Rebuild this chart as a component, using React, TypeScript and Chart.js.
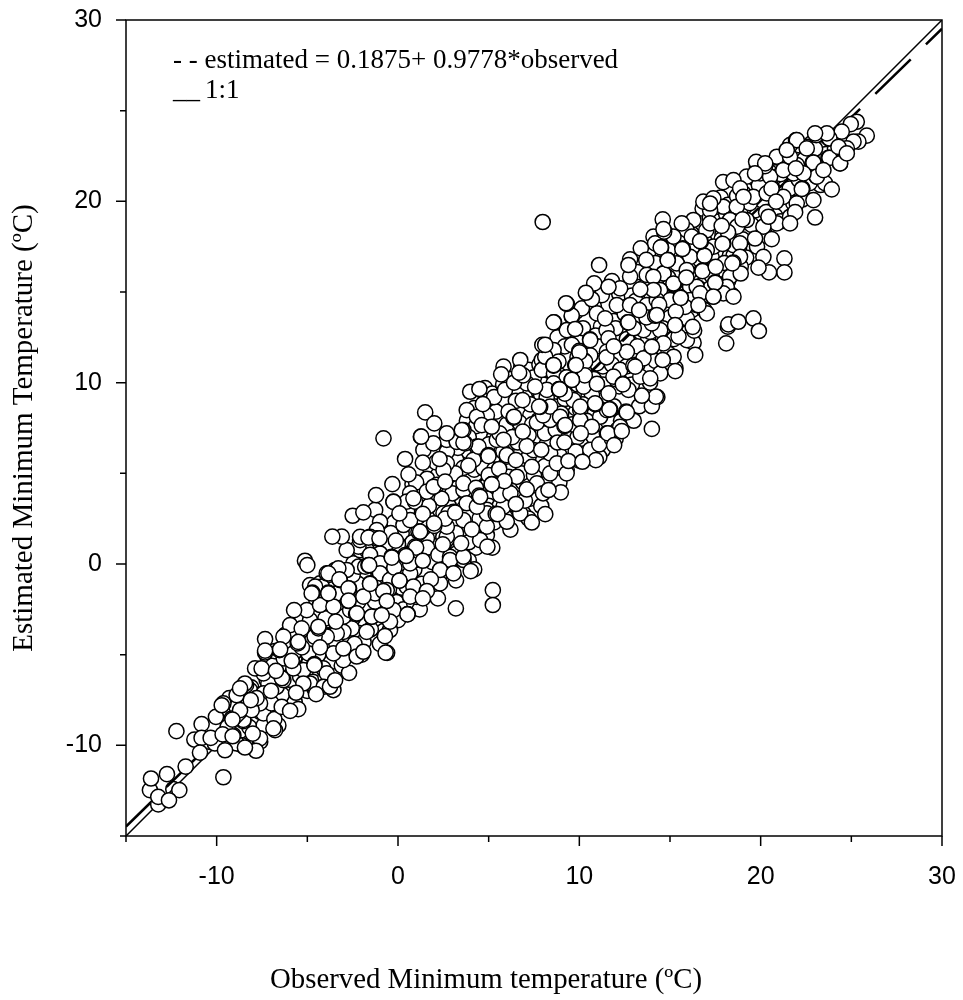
import React, { useEffect, useRef } from "react";
import { Chart, registerables } from "chart.js";

Chart.register(...registerables);

type Pair = [number, number];

const xTitle = "Observed Minimum temperature (ºC)";
const yTitle = "Estimated Minimum Temperature (ºC)";
const legendLines = ["- - estimated = 0.1875+ 0.9778*observed", "__", "1:1"];
const axisMin = -15;
const axisMax = 30;
const lineObserved = [-15, 30];
const oneToOne = [-15, 30];
const regression = [-14.48, 29.52];

// circles that sit beneath the two lines, so a diagonal shows through them
const underLines: Pair[] = [
  [-9.3,-7.4],[-8.9,-7.9],[-9.1,-8.9],[-8.7,-9.2],[-9.4,-9.7],[-8.6,-10.0],
  [-8.1,-6.8],[-7.9,-7.2],[-8.3,-8.3],[-7.8,-8.7],[-8.2,-9.0],[-7.6,-9.8],
  [-7.2,-5.1],[-6.9,-5.6],[-7.1,-6.2],[-6.8,-6.5],[-7.3,-7.3],[-6.9,-7.6],[-7.0,-8.3],[-6.6,-8.9],
  [-6.2,-3.9],[-5.9,-4.5],[-6.1,-5.1],[-5.8,-5.4],[-6.3,-6.0],[-5.9,-6.4],[-6.1,-7.2],[-5.7,-7.6],[-5.5,-8.0],
  [-5.2,-2.7],[-4.9,-3.1],[-5.1,-3.9],[-4.8,-4.3],[-5.2,-5.0],[-4.9,-5.3],[-5.1,-6.1],[-4.7,-6.5],[-5.0,-7.0],[-4.6,-6.9],
  [-4.2,-1.3],[-3.9,-1.9],[-4.1,-2.6],[-3.8,-3.4],[-4.2,-3.8],[-3.9,-4.4],[-4.1,-5.0],[-3.7,-5.4],[-4.0,-6.2],[-3.8,-6.6],
  [-3.2,-0.5],[-2.9,-1.0],[-3.1,-1.7],[-2.8,-2.3],[-3.2,-3.1],[-2.9,-3.5],[-3.1,-4.2],[-2.8,-4.8],[-3.1,-5.6],[-2.7,-6.0],
  [-2.3,0.2],[-1.9,-0.6],[-2.2,-1.1],[-1.9,-2.0],[-2.1,-2.6],[-1.8,-3.3],[-2.2,-3.8],[-1.9,-4.3],[-2.0,-5.0],
  [-1.2,1.0],[-0.8,0.7],[-1.1,-0.3],[-0.9,-1.1],[-1.2,-2.2],[-0.8,-2.4],[-1.1,-3.3],[-0.8,-3.7],[-1.0,-4.4],[-0.6,-4.9],
  [-0.2,2.3],[0.2,1.7],[-0.1,0.9],[0.3,0.3],[-0.2,-0.6],[0.2,-1.3],[-0.1,-2.1],[0.3,-2.5],[0,-3.1],
  [0.8,4.4],[1.2,3.5],[0.9,2.8],[1.3,2.2],[0.8,1.2],[1.2,0.7],[0.9,-0.3],[1.3,-1.1],[0.9,-2.2],[1.2,-2.5],
  [1.8,5.2],[2.2,4.9],[1.9,3.4],[2.3,3.0],[1.8,1.7],[2.2,1.0],[1.9,0.1],[2.3,-0.6],[1.9,-1.5],[2.2,-1.9],
  [2.8,6.1],[3.2,5.8],[2.9,4.8],[3.3,4.2],[2.8,3.2],[3.2,2.1],[2.9,1.3],[3.3,0.8],[2.9,-0.2],[3.2,-0.9],
  [3.8,7.9],[4.2,8.6],[3.9,6.2],[4.2,5.2],[3.8,3.9],[4.2,3.0],[3.9,1.8],[4.3,0.9],[3.9,0.2],[4.2,-0.3],
  [4.8,9.7],[5.2,9.4],[4.9,7.9],[5.3,7.0],[4.8,5.5],[5.2,5.0],[4.9,3.6],[5.3,2.3],[4.9,1.6],[5.2,0.9],
  [5.8,9.9],[6.2,10.2],[5.9,8.8],[6.3,7.8],[5.8,6.2],[6.2,5.3],[5.9,4.2],[6.3,3.3],[5.9,2.6],[6.2,1.9],
  [6.8,10.9],[7.2,10.7],[6.9,9.6],[7.3,8.2],[6.8,6.2],[7.2,5.9],[6.9,4.5],[7.3,3.6],[6.9,2.8],[7.2,2.5],
  [7.8,11.0],[8.2,10.6],[7.9,9.3],[8.3,8.0],[7.8,7.0],[8.2,6.6],[7.9,5.2],[8.3,4.5],[7.9,3.2],
  [8.8,12.5],[9.2,12.0],[8.9,10.4],[9.3,9.8],[8.8,8.4],[9.2,7.2],[8.9,6.0],[9.3,5.2],[8.9,4.5],
  [9.8,13.9],[10.2,13.0],[9.9,11.4],[10.3,10.6],[9.8,8.6],[10.2,8.0],[9.9,7.0],[10.3,6.1],[10.0,5.7],
  [10.8,14.2],[11.2,13.1],[10.9,12.6],[11.3,10.9],[10.8,10.2],[11.2,9.0],[10.9,7.4],[11.3,6.3],[11.1,5.9],
  [11.8,15.6],[12.2,14.9],[11.9,13.4],[12.3,12.6],[11.8,11.0],[12.2,9.8],[11.9,8.7],[12.3,7.9],[12.0,6.9],
  [12.8,16.8],[13.2,16.1],[12.9,14.8],[13.3,13.3],[12.8,12.2],[13.2,11.0],[12.9,9.9],[13.3,8.7],[13.0,7.9],
  [13.8,17.2],[14.2,16.6],[13.9,15.0],[14.3,13.1],[13.8,12.4],[14.2,11.2],[13.9,10.0],[14.3,9.2],[14.0,8.7],
  [14.8,18.2],[15.2,17.9],[14.9,15.8],[15.3,15.2],[14.8,13.4],[15.2,12.4],[14.9,11.6],[15.3,10.8],[15.0,11.1],
  [15.8,18.6],[16.2,18.2],[15.9,17.0],[16.3,15.8],[15.8,14.9],[16.2,14.0],[15.9,12.7],[16.3,12.2],
  [16.8,19.6],[17.2,19.1],[16.9,17.8],[17.3,16.9],[16.8,15.4],[17.2,14.8],[16.9,14.0],
  [17.8,20.2],[18.2,19.8],[17.9,18.2],[18.3,17.0],[17.8,16.0],[18.2,15.6],[17.9,15.0],
  [18.8,21.0],[19.2,20.6],[18.9,19.5],[19.3,18.3],[18.8,17.4],[19.2,16.9],[18.9,16.4],
  [19.8,21.9],[20.2,21.2],[19.9,19.2],[20.3,18.1],[19.8,17.5],
  [20.8,21.6],[21.2,22.5],[20.9,20.6],[21.3,19.6],[20.8,19.2],[21.1,18.9],
  [21.8,23.2],[22.2,22.6],[21.9,21.0],[22.3,20.1],[21.8,19.9],
  [22.8,23.2],[23.2,22.9],[22.9,21.7],[23.3,20.9],
  [-12.39,-12.42],[-8.53,-8.67],[-8.53,-8.6],[-5.68,-5.76],[-3.38,-3.18],[-1.91,-1.81],[-1.9,-1.9],[0.4,0.4],[1.59,1.41],[3.06,2.88],[3.7,3.95],
  [7.75,7.94],[10.97,11.06],[12.62,12.4],[15.2,15.4],[16.45,16.3],[17.85,17.9],[19.69,19.5],[20.06,20.07],[21.31,21.2],
];

const extraBack: Pair[] = [
  [17.5,18.9],[18.1,19.3],[18.7,20.3],[19.4,19.9],[19.9,20.9],[20.5,21.6],[21.1,21.5],[21.6,20.7],[22.1,21.2],[22.7,21.0],[23.3,21.6],[23.6,22.6],[24.1,22.9],
  [20.3,19.4],[19.5,18.7],[19.0,17.9],[18.5,17.0],[18.0,16.6],[17.3,15.9],[16.6,15.2],[16.0,14.9],[15.5,14.3],[15.0,13.6],[14.6,13.0],[17.0,18.4],[16.4,17.6],
  [15.4,16.9],[14.9,17.3],[14.3,15.8],[13.6,15.3],[13.1,14.5],[12.5,13.8],[12.0,13.0],[11.5,12.9],[11.0,12.0],[10.6,11.5],[10.1,10.9],[13.9,12.8],[13.2,12.0],
  [12.6,10.9],[12.0,10.2],[11.3,9.9],[10.7,9.3],[10.2,8.8],[9.7,9.4],[9.1,8.8],[8.6,9.4],[8.0,9.9],[7.5,10.3],[7.0,9.2],[6.5,9.6],[5.9,9.0],[5.4,8.4],[4.9,8.2],
  [4.3,7.6],[3.9,7.0],[3.3,6.4],[2.7,6.2],[2.1,5.6],[1.6,4.7],[1.0,4.5],[6.0,7.7],[6.7,7.8],[7.4,7.7],[8.1,7.2],[8.7,7.4],[5.0,6.6],[4.4,5.7],[3.6,5.3],[3.0,3.9],
  [2.4,3.6],[1.7,3.2],[1.1,2.6],[0.5,2.9],[-0.4,1.7],[0.0,1.1],[5.5,4.7],[6.1,4.8],[6.8,5.0],[7.5,4.9],[8.1,5.4],[4.4,3.5],[3.8,2.6],[3.2,1.7],[2.5,1.5],[1.6,0.9],
  [1.0,0.4],[5.0,3.2],[5.6,3.2],[6.6,3.6],[4.5,2.5],[3.9,1.2],[2.8,-0.1],[-6.8,-4.8],[-6.3,-5.2],[-5.6,-4.0],[-5.3,-3.1],[-4.5,-2.4],[-3.6,-1.4],[-2.5,-0.6],
  [-1.5,0.4],[-0.7,1.0],[-0.5,-1.4],[-1.6,-2.3],[-2.5,-3.0],[-3.4,-4.4],[-4.4,-5.0],[-5.4,-6.2],[-6.4,-7.2],[-7.4,-8.9],[-8.3,-7.8],[-2.4,-4.4],[-1.5,-3.6],
];

const backLow: Pair[] = [
  [-13.68,-12.47],[-13.22,-13.26],[-12.06,-12.47],[-9.67,-9.9],[-10.37,-9.81],[-8.9,-9.9],[-7.61,-9.62],[-7.61,-8.15],[-7.79,-7.97],[-7.15,-7.69],
  [-7.24,-6.41],[-6.69,-6.77],[-8.16,-6.96],[-8.38,-6.68],[-8.9,-7.23],[-9.17,-8.52],[-9.08,-9.44],[-9.63,-7.69],[-6.78,-9.16],[-7.42,-8.24],
  [-4.67,-2.82],[-3.93,-2.36],[-3.47,-0.33],[-2.46,0.03],[-2.09,0.77],[-1.17,0.03],[-0.99,0.58],[-1.27,-2.08],[-0.25,-2.54],[-1.45,-2.91],
  [-2.55,-3.55],[-3.01,-3.74],[-3.38,-3.83],[-3.93,-4.01],[-4.85,-3.09],[-5.95,-3.37],[-6.32,-4.01],[-5.77,-4.93],[-4.94,-4.93],[-5.22,-5.85],
  [-4.12,-5.76],[-3.93,-6.03],[-6.32,-6.4],[-7.15,-6.59],[-7.42,-6.03],[-7.88,-5.76],[-7.42,-7.14],[-8.44,-6.59],[-8.71,-6.86],[-6.97,-7.69],
  [-7.61,-7.69],[-8.07,-8.06],[-8.71,-8.06],[-4.85,-6.59],[-5.22,-6.59],[-3.56,-6.95],[-4.3,-1.07],[-4.85,-1.16],[0.11,-0.33],[-0.99,-0.89],
  [0.48,-1.25],[-1.72,0.77],[1.03,-1.81],[1.03,0.22],[-0.44,-3.64],[-4.1,-6.77],[-3.01,-5.3],[-3.56,-4.93],[-2.28,-5.1],[-4.5,-2.0],
  [-5.3,-4.6],[-4.6,-4.0],[-4.0,-3.0],[-3.0,-2.9],[-2.2,-2.1],[-1.3,-1.2],[-0.5,-0.4],[-6.4,-6.3],[-7.0,-7.0],[-7.8,-7.4],[-9.4,-9.0],[-10.1,-9.9],
];

const backMid: Pair[] = [
  [2.69,6.84],[3.24,6.75],[4.34,6.47],[5.45,6.84],[1.4,6.29],[0.67,3.9],[1.59,3.99],[2.14,4.36],[3.61,4.08],[3.15,5.0],[4.71,5.28],[4.16,5.74],
  [2.69,5.55],[-0.25,3.44],[0.48,3.44],[0.94,3.44],[2.51,2.79],[2.78,2.79],[3.79,3.35],[4.9,2.98],[4.9,2.06],[5.82,3.16],[-1.26,2.98],[-0.99,2.33],
  [0.3,2.15],[1.13,1.78],[2.69,1.51],[3.24,0.59],[4.53,1.32],[-2.18,0.96],[-1.17,1.87],[-2.09,1.32],[-1.54,0.5],[-0.99,0.04],[0.12,0.04],[0.94,0.96],
  [2.23,0.5],[2.87,0.4],[3.61,0.22],[-2.18,-0.15],[-1.81,-0.15],[-2.83,-0.33],[-3.29,-0.24],[-0.99,-0.52],[-0.44,-0.88],[0.67,-0.52],[0.85,-1.25],
  [2.32,-1.07],[-1.26,-1.62],[-0.62,-1.44],[-1.91,-1.8],[-3.38,-1.62],[-4.2,-1.25],[-4.57,-1.25],[-5.03,-2.54],[-4.3,-2.26],[-3.56,-2.35],[-2.64,-2.54],
  [-1.45,-2.9],[-0.44,-3.18],[0.67,-1.8],[5.82,10.88],[6.74,11.25],[7.93,11.25],[7.1,9.96],[7.93,10.7],[10.23,11.25],[3.98,9.5],[3.79,8.49],[4.35,8.12],
  [3.61,7.39],[4.62,7.66],[7.66,7.8],[8.39,7.94],[10.05,8.49],[10.78,7.02],[11.52,7.2],[8.39,6.1],[7.47,6.28],[6.0,5.92],[4.44,6.47],[3.7,6.65],[3.24,6.74],
  [2.51,5.18],[1.96,4.26],[3.61,4.45],[5.63,3.8],[7.66,4.45],[8.39,5.0],[8.76,5.55],[6.55,4.81],[4.9,2.79],[4.35,3.16],[0.85,3.62],[-0.25,3.43],[0.67,2.42],
  [2.69,2.06],[3.61,2.42],[6.0,2.33],[6.74,2.79],[1.22,1.78],[-1.17,1.41],[-1.54,1.5],[-2.09,1.5],[0.67,0.03],[2.87,0.22],[3.61,0.4],
  [5.3,5.2],[6.0,6.0],[6.6,6.7],[7.2,7.1],[8.0,8.2],[8.6,8.7],[9.2,9.1],[9.9,9.9],[5.0,4.9],[4.3,4.2],[2.6,2.5],[2.0,2.1],[1.0,0.9],[-0.2,-0.2],
  [4.8,9.0],[5.3,9.2],[5.9,9.6],[6.4,10.0],[6.9,10.4],[8.6,10.5],[9.3,10.3],[6.5,9.0],[6.1,8.4],[7.3,8.8],[8.2,9.2],[9.0,8.3],[9.6,7.7],[10.4,7.9],
  [5.6,7.2],[6.3,7.0],[7.1,6.5],[7.9,6.3],[8.8,6.7],[9.8,6.2],[9.3,5.0],[8.0,3.9],[7.0,3.5],[6.2,3.9],[10.6,6.3],[11.1,6.6],[11.8,6.9],[12.1,7.4],
];

const backHigh: Pair[] = [
  [14.09,18.05],[15.75,18.05],[16.67,16.77],[17.4,17.5],[18.5,17.59],[16.02,16.03],[14.64,16.03],[13.72,15.94],[12.8,15.85],[12.25,15.2],[11.24,14.83],
  [12.07,14.28],[10.97,13.82],[10.14,14.1],[9.59,13.64],[11.42,13.55],[13.72,14.28],[12.8,14.28],[14.83,14.65],[16.11,15.29],[18.14,15.11],[16.48,14.28],
  [15.93,13.55],[14.46,12.9],[13.54,12.9],[11.61,12.44],[9.31,12.9],[9.59,12.08],[8.58,11.8],[8.12,11.43],[8.85,11.16],[11.52,11.71],[12.62,11.7],[13.54,11.34],
  [15.2,11.43],[15.93,12.35],[10.32,11.16],[12.25,10.7],[11.88,10.33],[13.36,10.33],[14.46,10.51],[8.58,9.96],[10.23,9.78],[11.61,9.41],[12.71,9.6],[9.68,9.04],
  [8.39,8.68],[8.94,8.12],[10.05,7.94],[11.15,8.12],[12.25,7.57],[10.69,7.57],[8.21,9.6],[14.64,12.17],[14.0,13.27],[18.41,14.83],[17.22,15.2],
  [21.62,23.1],[22.54,23.01],[20.89,22.46],[19.97,21.54],[20.52,21.36],[21.99,22.28],[23.09,21.36],[22.54,21.72],[23.55,21],[21.81,21.54],[19.23,21.36],
  [19.05,20.44],[19.6,20.25],[17.94,19.7],[17.21,19.52],[18.68,19.7],[20.33,20.44],[21.25,20.25],[21.99,19.89],[21.62,19.15],[20.89,18.78],[20.15,18.6],
  [19.23,18.97],[18.31,18.97],[17.21,18.78],[16.29,18.97],[15.92,18.41],[15.19,18.05],[16.2,18.05],[14.18,17.68],[18.86,17.68],[17.94,17.68],[17.03,17.31],
  [16.11,16.94],[15.37,16.58],[14.64,16.02],[14.08,15.84],[15.92,16.21],[18.31,15.84],[16.47,15.29],[18.13,15.29],[15.19,15.47],[14.45,15.11],[16.11,14.55],
  [15,14.55],[17.94,14.92],[15.83,14.18],[14.27,14.55],[16.66,14.92],[20.15,16.94],[18.86,16.94],[24.38,22.09],
  [13.0,13.0],[13.7,13.6],[14.4,14.3],[11.5,11.4],[10.3,10.4],[9.2,9.4],[11.9,12.0],[22.4,22.3],[23.0,22.9],[22.0,22.0],[20.6,20.7],[18.7,18.6],[18.2,18.3],[16.9,17.0],[15.9,15.8],[19.0,19.0],
];

const topLow: Pair[] = [
  [-13.62,-11.83],[-12.74,-11.59],[-12.22,-9.22],[-9.63,-11.76],[-11.71,-11.17],[-13.22,-12.84],[-12.63,-13.03],[-10.83,-8.83],[-10.04,-8.43],[-9.72,-7.79],
  [-11.23,-9.68],[-10.83,-9.59],[-10.33,-9.59],[-9.67,-9.4],[-9.12,-9.5],[-8.01,-9.35],[-9.13,-8.58],[-8.12,-7.51],[-6.82,-8.56],[-6.41,-7.88],[-5.95,-8.1],
  [-6.87,-9.07],[-7.83,-10.3],[-8.44,-10.12],[-9.54,-10.27],[-10.92,-10.4],[-7.52,-5.76],[-7.33,-4.88],[-6.73,-5.89],[-5.77,-5.76],[-4.61,-5.52],[-5.62,-7.1],
  [-4.52,-7.18],[-3.75,-6.77],[-3.47,-6.41],[-3.01,-4.66],[-5.53,-4.38],[-6.54,-4.75],[-5.13,0.18],[-5.0,-0.06],[-2.83,0.77],[-1.63,-0.06],[-0.35,0.4],[0.39,0.49],
  [-1.54,-1.07],[-3.2,-0.89],[0.08,-0.92],[-3.84,-1.58],[-2.7,-1.35],[-2.74,-2.04],[-4.72,-1.58],[-0.81,-1.49],[-0.62,-2.04],[-5.73,-2.54],[-2.31,-2.76],
  [-4.39,-3.55],[-5.31,-3.55],[-5.5,-4.29],[-4.3,-4.6],[-7.33,-4.14],[-7.33,-4.78],[-1.91,-4.84],[-0.68,-4.89],[-1.73,-3.74],[-0.72,-3.98],[-0.9,-2.82],[0.54,-2.76],
  [-3.93,-0.52],[-6.5,-4.71],[-5.86,-5.34],[-4.61,-5.57],[-3.43,-3.18],[-4.39,-3.46],
];

const topMid: Pair[] = [
  [-0.8,6.93],[0.39,5.79],[1.37,5.59],[2.29,5.79],[3.88,5.42],[4.99,6.01],[1.26,7.02],[1.95,6.65],[3.61,6.69],[0.58,4.94],[-0.31,4.41],[2.6,4.54],[5.17,4.41],
  [-1.21,3.8],[4.47,3.77],[-2.5,2.66],[-1.91,2.85],[3.15,2.83],[1.37,2.76],[0.08,2.79],[5.39,2.76],[1.99,2.24],[4.07,1.91],[-3.1,1.51],[-3.62,1.51],[-1.63,1.45],
  [-1.02,1.41],[-0.12,1.29],[2.47,1.08],[3.48,1.14],[4.93,0.96],[-0.34,0.35],[0.45,0.44],[1.37,0.18],[-1.59,-0.06],[4.01,-0.39],[2.32,-0.33],[3.06,-0.52],[-3.84,-0.52],
  [-3.23,-0.85],[1.81,-0.85],[0.08,-0.92],[-1.54,-1.1],[-2.73,-1.34],[-3.84,-1.62],[-4.76,-1.62],[-2.73,-2.02],[1.59,-1.49],[1.37,-1.9],[5.23,-1.44],[5.23,-2.26],[3.19,-2.45],
  [0.52,-2.78],[-2.27,-2.72],[1.5,8.36],[2.0,7.75],[1.28,7.02],[2.69,7.2],[3.52,7.39],[4.49,9.65],[5.69,10.46],[6.68,10.55],[8.58,10.94],[9.77,10.97],[7.56,9.78],[8.91,9.65],
  [4.68,8.82],[6.87,9.04],[7.84,8.67],[9.59,10.15],[10.87,8.82],[11.52,8.49],[6.37,8.07],[5.17,7.57],[9.18,7.61],[10.08,7.2],[6.88,7.3],[5.82,6.84],[9.18,6.71],[4.99,5.95],
  [6.5,5.73],[9.4,5.68],[10.91,5.73],[10.17,5.64],[5.58,5.24],[7.38,5.36],[5.87,4.57],[5.17,4.39],[7.1,4.11],[8.98,3.95],[8.3,4.08],[4.53,3.71],[6.5,3.31],[8.12,2.75],
  [7.38,2.29],[5.49,2.75],[8.61,13.33],[7.96,12.08],[9.58,13.7],[9.31,14.34],[10.59,12.39],[12.67,13.33],[12.98,10.94],[10.0,11.75],[8.57,10.97],[12.4,9.93],[9.58,10.15],
  [8.88,9.65],[7.78,8.68],[6.4,8.12],[10.91,8.82],[11.7,8.53],[12.58,8.4],[11.57,7.2],[11.92,6.56],[12.34,7.33],
];

const topHigh: Pair[] = [
  [7.98,18.86],[11.09,16.49],[14.68,18.33],[13.39,17.41],[12.71,16.49],[13.69,16.77],[14.88,16.77],[15.71,17.41],[16.7,17.78],[17.9,17.65],[14.51,17.46],[16.79,16.18],[18.5,16.62],
  [14.09,15.11],[13.36,15.15],[17.49,15.53],[15.6,14.69],[17.4,14.74],[10.69,14.6],[9.27,14.38],[10.82,15.48],[10.36,14.96],[11.61,15.29],[13.3,14.0],[14.18,13.69],[15.32,13.92],
  [17.03,13.82],[8.58,13.33],[9.77,12.96],[12.71,13.33],[15.29,13.14],[16.33,12.87],[18.19,13.09],[18.1,12.17],[10.6,12.35],[14.0,11.98],[15.47,12.54],[16.39,11.53],[10.01,11.67],
  [8.12,12.08],[14.6,11.25],[9.81,10.97],[8.58,10.97],[13.08,10.88],[15.29,10.64],[13.91,10.24],[9.59,10.15],[10.97,9.93],[12.4,9.91],[8.91,9.63],[14.22,9.23],[13.45,9.28],[10.05,8.68],
  [10.87,8.86],[11.66,8.53],[12.62,8.36],[9.22,7.66],[14.0,7.45],[23.77,23.47],[22.87,22.13],[23.74,22.4],[21.95,23.38],[19.75,22.18],[21.25,21.72],[20.24,21.94],[23.92,20.66],[22.3,20.71],
  [17.93,21.06],[18.5,21.17],[16.84,19.98],[17.39,20.16],[20.85,19.98],[23.0,19.11],[17.85,18.65],[14.6,19.0],[14.64,18.47],[15.65,18.78],[16.66,17.81],[15.68,17.37],[14.49,17.46],[14.87,16.76],
  [19.69,17.95],[20.61,17.92],[21.31,16.85],[21.31,16.08],[20.46,16.08],[19.88,16.34],[18.9,16.02],[16.79,16.15],[17.52,16.39],[18.44,16.58],[17.49,15.51],[15.59,14.68],[17.39,14.74],[18.5,14.74],
  [14.27,13.73],[16.57,14.28],[18.22,13.21],[18.77,13.36],[19.6,13.54],[19.9,12.85],[15.28,13.17],[16.25,13.08],[25.3,24.39],[24.97,24.26],[25.85,23.62],[25.39,23.29],[25.12,23.29],[24.47,23.84],
  [23.79,23.47],[23.06,23.65],[23.65,23.75],[23.0,23.75],[23.79,22.4],[24.38,22.09],[22.91,22.13],[21.99,23.38],[22.54,22.92],[24.75,22.92],[24.29,23.0],[24.75,22.64],[23.1,21.36],[23.46,21.72],
  [22.36,21.54],[21.62,22.46],[21.44,22.83],[20.25,22.09],[19.69,21.54],[18.87,20.71],[17.21,19.88],[21.9,19.4],[22.91,20.07],[19.05,20.25],[21.62,18.78],[20.43,19.15],[22.27,20.68],[21.94,21.82],
];

const toPoints = (list: Pair[]) => list.map(([x, y]) => ({ x, y }));

const circleStyle = {
  pointRadius: 7.6,
  pointHoverRadius: 7.6,
  pointBackgroundColor: "#ffffff",
  pointBorderColor: "#000000",
  pointBorderWidth: 1.5,
  showLine: false,
};

const framePlugin = {
  id: "frame",
  afterDraw(chart: any) {
    const { ctx, chartArea: a, scales } = chart;
    ctx.save();
    ctx.strokeStyle = "#000000";
    ctx.lineWidth = 1.5;
    ctx.strokeRect(a.left, a.top, a.right - a.left, a.bottom - a.top);
    ctx.beginPath();
    for (const t of scales.x.ticks) {
      const major = t.value % 10 === 0;
      const p = scales.x.getPixelForValue(t.value);
      ctx.moveTo(p, a.bottom);
      ctx.lineTo(p, a.bottom + (major ? 10 : 6));
    }
    for (const t of scales.y.ticks) {
      const major = t.value % 10 === 0;
      const p = scales.y.getPixelForValue(t.value);
      ctx.moveTo(a.left, p);
      ctx.lineTo(a.left - (major ? 10 : 6), p);
    }
    ctx.stroke();
    ctx.fillStyle = "#000000";
    ctx.font = '27px "Liberation Serif"';
    ctx.textBaseline = "alphabetic";
    ctx.textAlign = "left";
    ctx.fillText(legendLines[0], 173, 68);
    ctx.fillText(legendLines[1], 173, 98);
    ctx.fillText(legendLines[2], 205, 98);
    ctx.font = '28.8px "Liberation Serif"';
    ctx.textAlign = "center";
    ctx.fillText(xTitle, 486, 988);
    ctx.restore();
  },
};

const clearPadding = (s: any) => {
  s.paddingTop = 0;
  s.paddingBottom = 0;
  s.paddingLeft = 0;
  s.paddingRight = 0;
};

export default function App() {
  const ref = useRef<HTMLCanvasElement | null>(null);
  useEffect(() => {
    if (!ref.current) return;
    const tickLabel = (v: any) => (Number(v) % 10 === 0 ? String(v) : "");
    const chart = new Chart(ref.current, {
      type: "scatter",
      data: {
        datasets: [
          { data: toPoints(underLines), order: 4, ...circleStyle },
          {
            type: "line",
            data: lineObserved.map((x, i) => ({ x, y: oneToOne[i] })),
            borderColor: "#000000",
            borderWidth: 1.5,
            pointRadius: 0,
            order: 3,
          },
          {
            type: "line",
            data: lineObserved.map((x, i) => ({ x, y: regression[i] })),
            borderColor: "#000000",
            borderWidth: 2.5,
            borderDash: [49.5, 21.3],
            borderDashOffset: 14,
            pointRadius: 0,
            order: 2,
          },
          {
            data: toPoints([...extraBack, ...backLow, ...backMid, ...backHigh, ...topLow, ...topMid, ...topHigh]),
            order: 1,
            ...circleStyle,
          },
        ],
      } as any,
      options: {
        animation: false,
        responsive: false,
        layout: { padding: { top: 20, right: 21, left: 0, bottom: 0 } },
        plugins: { legend: { display: false }, tooltip: { enabled: false } },
        scales: {
          x: {
            type: "linear",
            min: axisMin,
            max: axisMax,
            afterFit(s: any) { s.height = 164; clearPadding(s); },
            grid: { display: false },
            border: { display: false },
            ticks: {
              stepSize: 5,
              autoSkip: false,
              maxRotation: 0,
              padding: 18,
              color: "#000000",
              font: { family: '"Liberation Sans"', size: 25 },
              callback: tickLabel,
            },
          },
          y: {
            type: "linear",
            min: axisMin,
            max: axisMax,
            afterFit(s: any) { s.width = 126; clearPadding(s); },
            grid: { display: false },
            border: { display: false },
            ticks: {
              stepSize: 5,
              autoSkip: false,
              padding: 16,
              color: "#000000",
              font: { family: '"Liberation Sans"', size: 25 },
              callback: tickLabel,
            },
            title: {
              display: true,
              text: yTitle,
              color: "#000000",
              font: { family: '"Liberation Serif"', size: 29 },
              padding: { top: 7, bottom: 0 },
            },
          },
        },
      },
      plugins: [framePlugin],
    } as any);
    return () => chart.destroy();
  }, []);
  return (
    <div style={{ position: "absolute", left: 0, top: 0, width: 963, height: 1000, background: "#ffffff" }}>
      <canvas ref={ref} width={963} height={1000} style={{ display: "block" }} />
    </div>
  );
}
